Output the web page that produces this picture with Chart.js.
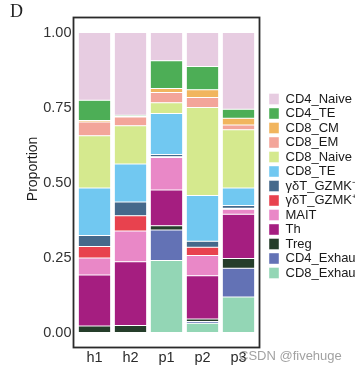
<!DOCTYPE html>
<html>
<head>
<meta charset="utf-8">
<script src="https://cdn.jsdelivr.net/npm/chart.js@4.4.1/dist/chart.umd.min.js"></script>
<style>
  html, body { margin: 0; padding: 0; background: #ffffff; overflow: hidden; }
  #wrap { position: relative; width: 355px; height: 372px; }
  #panel { position: absolute; left: 10px; top: 1px; font-family: 'Liberation Serif', 'Times New Roman', serif; font-size: 18px; color: #222; }
  #wm { position: absolute; left: 239px; top: 348px; font-family: 'Liberation Sans', Arial, sans-serif; font-size: 13px; color: rgba(110,110,110,0.65); white-space: nowrap; }
</style>
</head>
<body>
<div id="wrap">
  <canvas id="c" width="355" height="372"></canvas>
  <div id="panel">D</div>
  <div id="wm">CSDN @fivehuge</div>
</div>
<script>
// ---- data ----
const categories = ['h1', 'h2', 'p1', 'p2', 'p3'];
const yTickValues = [0, 0.25, 0.5, 0.75, 1.0];
const yTickLabels = ['0.00', '0.25', '0.50', '0.75', '1.00'];

// series, stacked bottom -> top
const CD8_Exhau   = [0.000, 0.000, 0.240, 0.031, 0.118];
const CD4_Exhau   = [0.000, 0.000, 0.102, 0.006, 0.096];
const Treg        = [0.022, 0.023, 0.014, 0.008, 0.033];
const Th          = [0.170, 0.213, 0.119, 0.144, 0.147];
const MAIT        = [0.056, 0.102, 0.108, 0.068, 0.017];
const gdT_GZMKpos = [0.039, 0.051, 0.003, 0.027, 0.003];
const gdT_GZMKneg = [0.036, 0.046, 0.007, 0.020, 0.009];
const CD8_TE      = [0.159, 0.127, 0.137, 0.153, 0.059];
const CD8_Naive   = [0.174, 0.127, 0.036, 0.293, 0.194];
const CD8_EM      = [0.046, 0.029, 0.034, 0.033, 0.016];
const CD8_CM      = [0.005, 0.002, 0.013, 0.026, 0.022];
const CD4_TE      = [0.067, 0.004, 0.093, 0.078, 0.030];
const CD4_Naive   = [0.226, 0.276, 0.094, 0.113, 0.256];

const seriesNames = ['CD8_Exhau', 'CD4_Exhau', 'Treg', 'Th', 'MAIT', 'γδT_GZMK⁺', 'γδT_GZMK⁻',
                     'CD8_TE', 'CD8_Naive', 'CD8_EM', 'CD8_CM', 'CD4_TE', 'CD4_Naive'];
const seriesValues = [CD8_Exhau, CD4_Exhau, Treg, Th, MAIT, gdT_GZMKpos, gdT_GZMKneg,
                      CD8_TE, CD8_Naive, CD8_EM, CD8_CM, CD4_TE, CD4_Naive];
const seriesColors = ['#93D6B5', '#6372B5', '#253D2A', '#A51E80', '#E988C7', '#E8424E', '#45698B',
                      '#71C8F1', '#D5E98E', '#F3A59A', '#F1B55E', '#4DAE56', '#E7CCE1'];

const FONT = "'Liberation Sans', Arial, Helvetica, sans-serif";

const framePlugin = {
  id: 'frame',
  afterDatasetsDraw(chart) {
    const a = chart.chartArea;
    const ctx = chart.ctx;
    ctx.save();
    ctx.strokeStyle = '#2a2a2a';
    ctx.lineWidth = 1.8;
    ctx.strokeRect(a.left - 3, a.top, (a.right - a.left) + 6, a.bottom - a.top);
    ctx.restore();
  }
};

new Chart(document.getElementById('c'), {
  type: 'bar',
  data: {
    labels: categories,
    datasets: seriesNames.map((name, i) => ({
      label: name,
      data: seriesValues[i],
      backgroundColor: seriesColors[i],
      borderColor: 'rgba(255,255,255,0.85)',
      borderWidth: 0.5,
      borderSkipped: false,
      barPercentage: 0.9,
      categoryPercentage: 1.0
    }))
  },
  options: {
    responsive: false,
    devicePixelRatio: 1,
    animation: false,
    layout: { padding: { top: 17.5, bottom: 0, left: 0, right: 0 } },
    plugins: {
      tooltip: { enabled: false },
      legend: {
        position: 'right',
        align: 'center',
        fullSize: false,
        reverse: true,
        maxWidth: 87.5,
        title: { display: true, text: '', font: { size: 5, lineHeight: 1 }, padding: { top: 0, bottom: 2 } },
        labels: {
          boxWidth: 10,
          boxHeight: 11,
          padding: 1.5,
          color: '#1a1a1a',
          font: { family: FONT, size: 13 }
        }
      }
    },
    scales: {
      x: {
        stacked: true,
        offset: true,
        grid: { display: false, drawTicks: false },
        border: { display: false },
        ticks: { color: '#2a2a2a', font: { family: FONT, size: 14.5 }, padding: 2, maxRotation: 0 },
        afterFit(s) { s.height = 24.5; }
      },
      y: {
        stacked: true,
        min: -0.05,
        max: 1.05,
        grid: { display: false, drawTicks: false },
        border: { display: false },
        afterBuildTicks(s) { s.ticks = yTickValues.map(v => ({ value: v })); },
        ticks: {
          color: '#333333',
          font: { family: FONT, size: 14.5 },
          padding: 5,
          callback(v) { const i = yTickValues.indexOf(v); return i >= 0 ? yTickLabels[i] : ''; }
        },
        title: {
          display: true,
          text: '       Proportion',
          color: '#1a1a1a',
          font: { family: FONT, size: 14 },
          padding: { top: 24.6, bottom: 0 }
        },
        afterFit(s) { s.width = 76.5; }
      },
      gap: {
        type: 'linear',
        position: 'right',
        display: true,
        grid: { display: false, drawTicks: false },
        border: { display: false },
        ticks: { display: false },
        afterFit(s) { s.width = 11; }
      }
    }
  },
  plugins: [framePlugin]
});
</script>
</body>
</html>
